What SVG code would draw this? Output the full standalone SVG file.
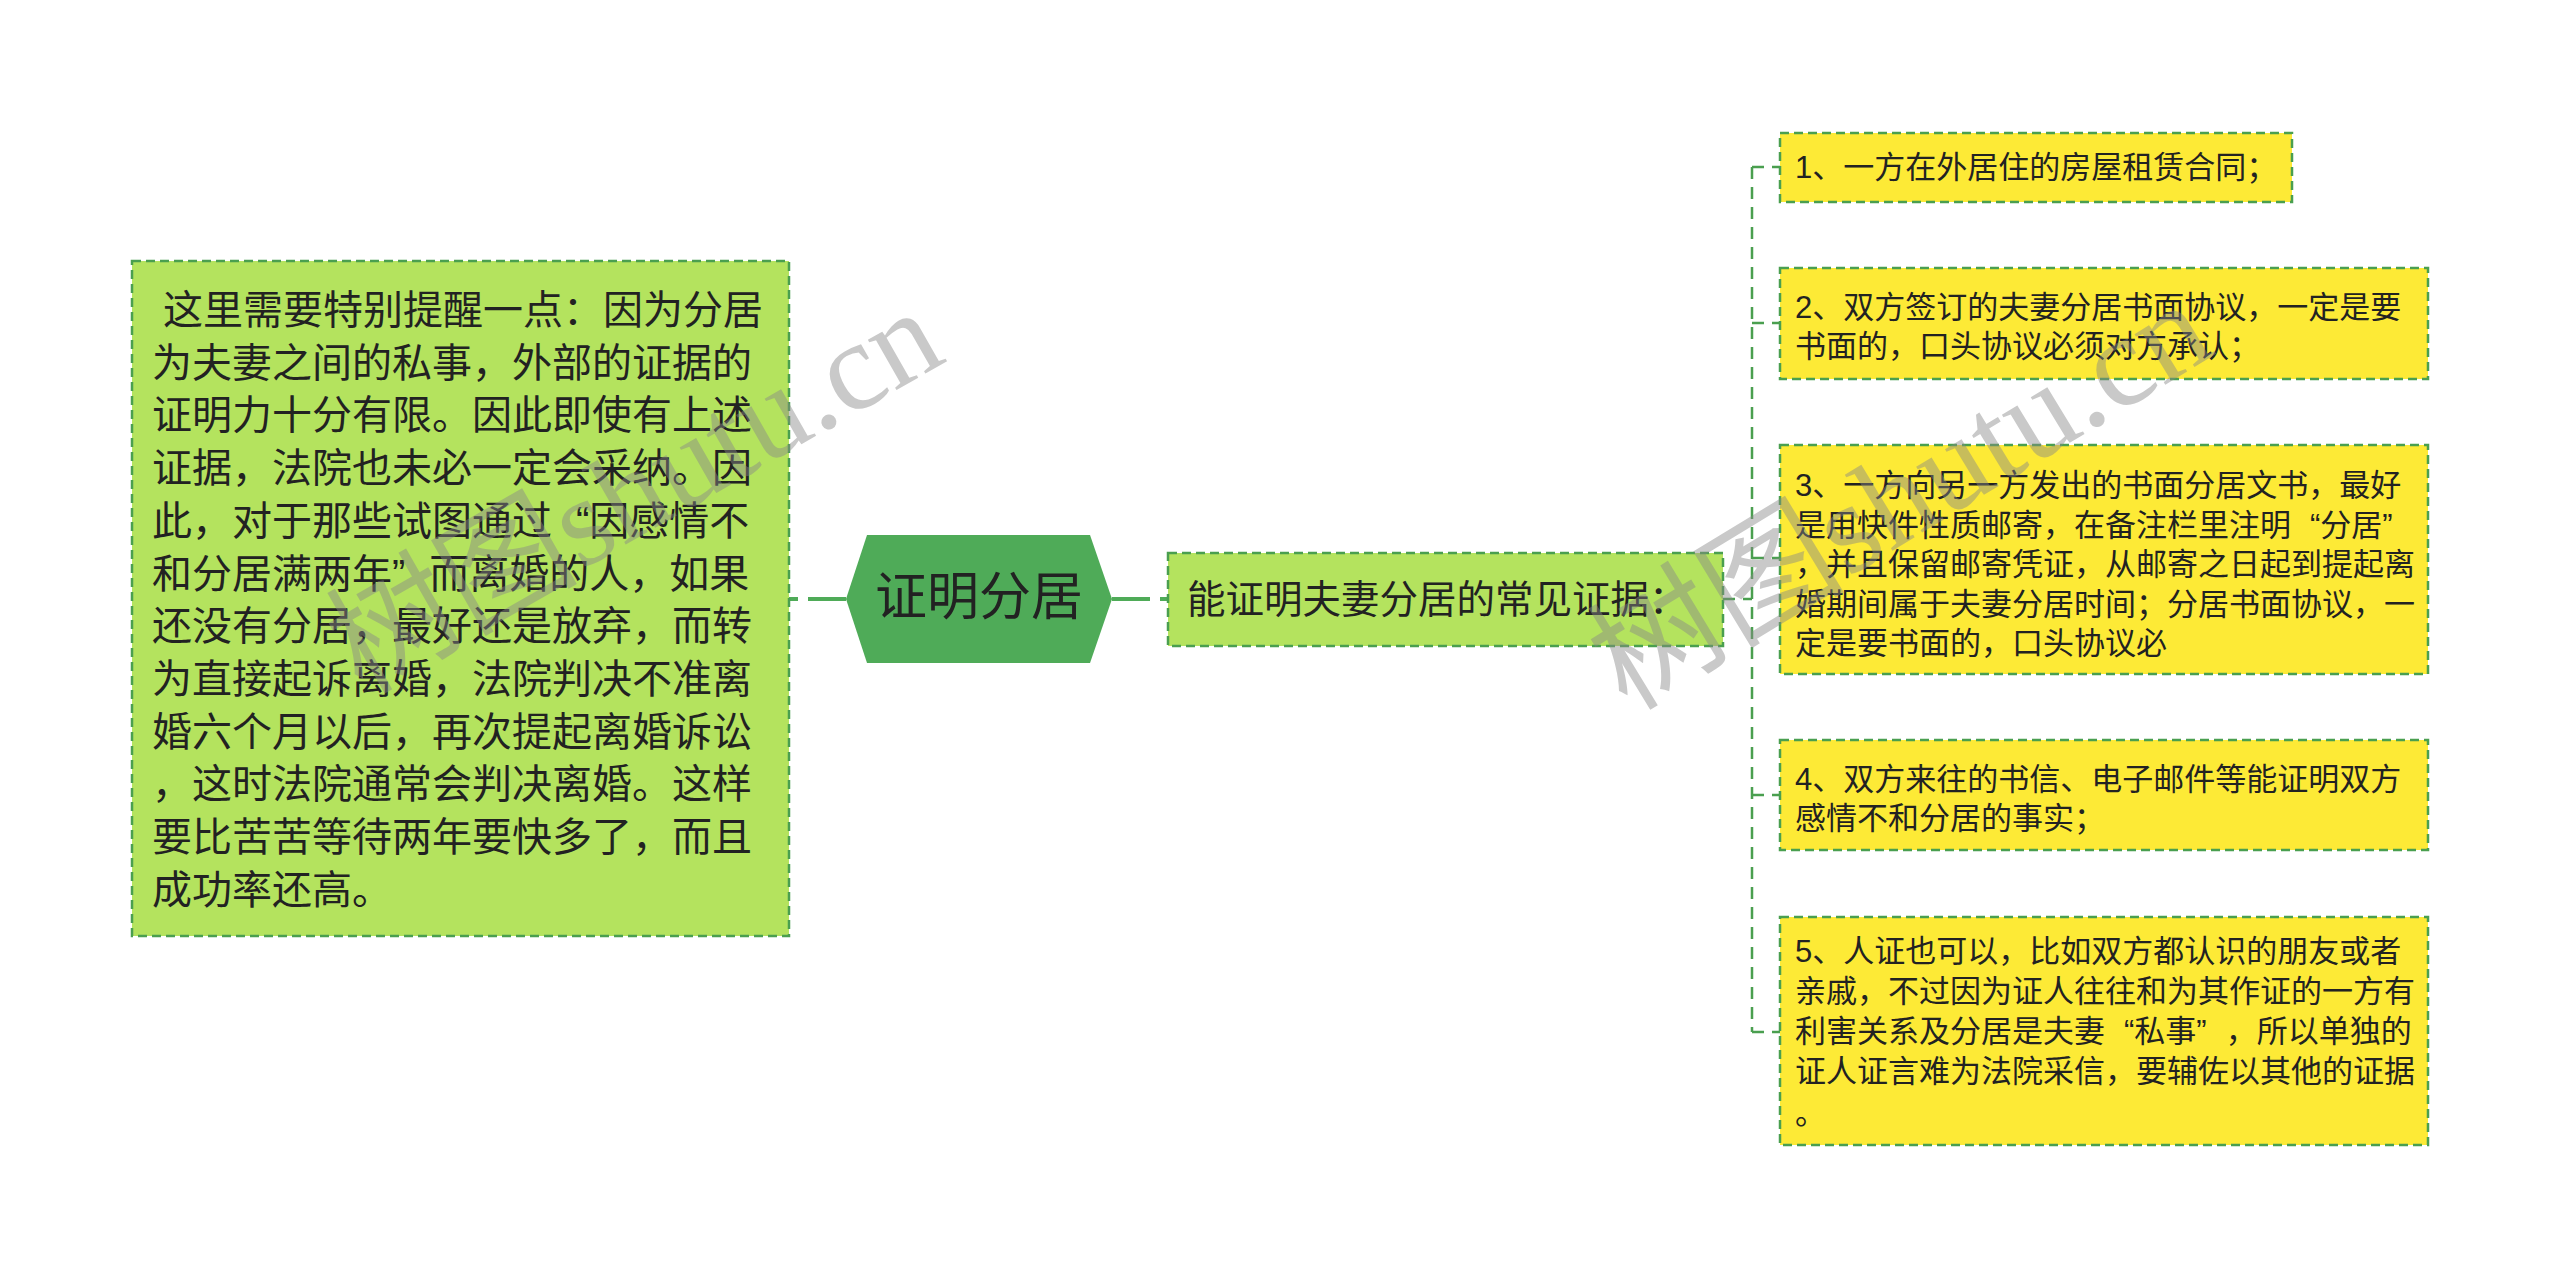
<svg xmlns="http://www.w3.org/2000/svg" width="2560" height="1278" viewBox="0 0 2560 1278">
<style>
.t{font-family:"Liberation Sans","Noto Sans CJK SC",sans-serif;fill:#222}
.lg{fill:#b4e35e;stroke:#4a9f4f;stroke-width:2.5;stroke-dasharray:9 5}
.yl{fill:#fdea36;stroke:#4a9f4f;stroke-width:2.5;stroke-dasharray:9 5}
.cm{fill:none;stroke:#4fab58;stroke-width:4;stroke-dasharray:38 10}
.cs{fill:none;stroke:#4a9f4f;stroke-width:2.5;stroke-dasharray:12 8}
.wm{font-family:"Liberation Serif","Noto Sans CJK SC",serif;fill:#888;opacity:0.45}
</style>
<rect width="2560" height="1278" fill="#ffffff"/>
<g id="connectors">
<path class="cm" d="M846 599 H789"/>
<path class="cm" d="M1112 599 H1167"/>
<path class="cs" d="M1723 599 H1752"/>
<path class="cs" d="M1752 167 V1032"/>
<path class="cs" d="M1752 167 H1780"/>
<path class="cs" d="M1752 323 H1780"/>
<path class="cs" d="M1752 558 H1780"/>
<path class="cs" d="M1752 795 H1780"/>
<path class="cs" d="M1752 1032 H1780"/>
</g>
<g id="node-left">
<rect class="lg" x="132" y="261" width="657" height="675"/>
<text class="t" font-size="40">
<tspan x="163" y="324">这里需要特别提醒一点：因为分居</tspan>
<tspan x="152" y="376.7">为夫妻之间的私事，外部的证据的</tspan>
<tspan x="152" y="429.4">证明力十分有限。因此即使有上述</tspan>
<tspan x="152" y="482.1">证据，法院也未必一定会采纳。因</tspan>
<tspan x="152" y="534.8">此，对于那些试图通过<tspan dx="24">“</tspan>因感情不</tspan>
<tspan x="152" y="587.5">和分居满两年”<tspan dx="24">而</tspan>离婚的人，如果</tspan>
<tspan x="152" y="640.2">还没有分居，最好还是放弃，而转</tspan>
<tspan x="152" y="692.9">为直接起诉离婚，法院判决不准离</tspan>
<tspan x="152" y="745.6">婚六个月以后，再次提起离婚诉讼</tspan>
<tspan x="152" y="798.3">，这时法院通常会判决离婚。这样</tspan>
<tspan x="152" y="851">要比苦苦等待两年要快多了，而且</tspan>
<tspan x="152" y="903.7">成功率还高。</tspan>
</text>
</g>
<g id="node-root">
<polygon points="846,599 867,535 1090,535 1112,599 1090,663 867,663" fill="#4fab58"/>
<text class="t" font-size="52" x="979" y="615" text-anchor="middle">证明分居</text>
</g>
<g id="node-evidence">
<rect class="lg" x="1168" y="553" width="555" height="93"/>
<text class="t" font-size="38.5" x="1187" y="613">能证明夫妻分居的常见证据：</text>
</g>
<g id="item-1">
<rect class="yl" x="1780" y="133" width="512" height="69"/>
<text class="t" font-size="31" x="1795" y="178">1、一方在外居住的房屋租赁合同；</text>
</g>
<g id="item-2">
<rect class="yl" x="1780" y="268" width="648" height="111"/>
<text class="t" font-size="31"><tspan x="1795" y="318">2、双方签订的夫妻分居书面协议，一定是要</tspan><tspan x="1795" y="357">书面的，口头协议必须对方承认；</tspan></text>
</g>
<g id="item-3">
<rect class="yl" x="1780" y="445" width="648" height="229"/>
<text class="t" font-size="31"><tspan x="1795" y="496">3、一方向另一方发出的书面分居文书，最好</tspan><tspan x="1795" y="535.5">是用快件性质邮寄，在备注栏里注明<tspan dx="19">“</tspan>分居”</tspan><tspan x="1795" y="575">，并且保留邮寄凭证，从邮寄之日起到提起离</tspan><tspan x="1795" y="614.5">婚期间属于夫妻分居时间；分居书面协议，一</tspan><tspan x="1795" y="654">定是要书面的，口头协议必</tspan></text>
</g>
<g id="item-4">
<rect class="yl" x="1780" y="740" width="648" height="110"/>
<text class="t" font-size="31"><tspan x="1795" y="790">4、双方来往的书信、电子邮件等能证明双方</tspan><tspan x="1795" y="829">感情不和分居的事实；</tspan></text>
</g>
<g id="item-5">
<rect class="yl" x="1780" y="917" width="648" height="228"/>
<text class="t" font-size="31"><tspan x="1795" y="962">5、人证也可以，比如双方都认识的朋友或者</tspan><tspan x="1795" y="1002">亲戚，不过因为证人往往和为其作证的一方有</tspan><tspan x="1795" y="1042">利害关系及分居是夫妻<tspan dx="19">“</tspan>私事”<tspan dx="19">，</tspan>所以单独的</tspan><tspan x="1795" y="1082">证人证言难为法院采信，要辅佐以其他的证据</tspan><tspan x="1795" y="1124">。</tspan></text>
</g>
<g id="watermark">
<text class="wm" font-size="126" transform="translate(362,695) rotate(-29.7)">树图shutu.cn</text>
<text class="wm" font-size="129" transform="translate(1627,712) rotate(-31.3)">树图shutu.cn</text>
</g>
</svg>
